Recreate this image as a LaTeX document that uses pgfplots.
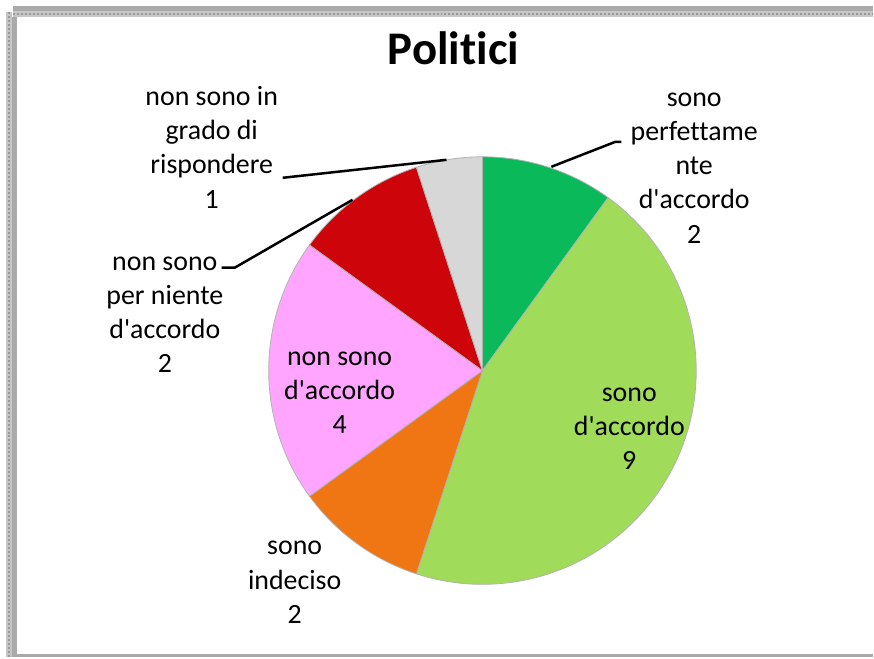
\documentclass[border=0pt]{standalone}
\usepackage{fontspec}
\setmainfont{Carlito}[Ligatures={TeX,NoCommon}]
\usepackage{pgfplots}
\pgfplotsset{compat=1.18}
\usepackage{pgfplotstable}

\definecolor{c0}{RGB}{10,185,90}
\definecolor{c1}{RGB}{160,220,90}
\definecolor{c2}{RGB}{240,118,20}
\definecolor{c3}{RGB}{255,165,255}
\definecolor{c4}{RGB}{205,5,10}
\definecolor{c5}{RGB}{215,215,215}
\definecolor{framegray}{RGB}{170,170,170}

% slices clockwise from 12 o'clock
\pgfplotstableread{
label value
perfettamente 2
accordo 9
indeciso 2
nonaccordo 4
perniente 2
nonrisponde 1
}\piedata

\newcommand{\lbl}{\fontsize{28}{34.5}\selectfont}
\newcommand{\ap}{\textquotesingle}

\begin{document}
\begin{tikzpicture}
\begin{axis}[width=874bp,height=658bp,scale only axis,axis lines=none,
  xmin=0,xmax=874,ymin=0,ymax=658,clip=false]

  %% frame
  \fill[white] (axis cs:0,0) rectangle (axis cs:874,658);
  \fill[framegray] (axis cs:13,647) rectangle (axis cs:874,652);
  \fill[gray!45] (axis cs:13,641) rectangle (axis cs:874,647);
  \draw[gray!80,line width=2bp,dash pattern=on 2bp off 2bp] (axis cs:13,644) -- (axis cs:874,644);
  \fill[gray!45] (axis cs:6,0) rectangle (axis cs:12,646);
  \draw[gray!80,line width=2bp,dash pattern=on 2bp off 2bp] (axis cs:9,0) -- (axis cs:9,646);
  \fill[framegray] (axis cs:12,2) rectangle (axis cs:17,641);
  \fill[framegray] (axis cs:12,0) rectangle (axis cs:874,3);

  %% pie
  \def\total{0}
  \pgfplotsforeachungrouped \i in {0,...,5}{%
    \pgfplotstablegetelem{\i}{value}\of\piedata
    \pgfmathsetmacro\total{\total+\pgfplotsretval}%
  }
  \def\start{90}
  \pgfplotsforeachungrouped \i in {0,...,5}{%
    \pgfplotstablegetelem{\i}{value}\of\piedata
    \pgfmathsetmacro\stop{\start-360*\pgfplotsretval/\total}%
    \edef\cmd{\noexpand\fill[c\i,draw=black!30,line width=0.8bp]
      (axis cs:483,287) -- ++(\start:214bp)
      arc[start angle=\start,end angle=\stop,radius=214bp] -- cycle;}%
    \cmd
    \let\start\stop
  }

  %% title
  \node[font=\fontsize{47}{52}\selectfont\bfseries] at (axis cs:454,610) {Politici};

  %% leader lines
  \draw[line width=2.5bp] (axis cs:283,480) -- (axis cs:447,498);
  \draw[line width=2.5bp] (axis cs:222,390) -- (axis cs:235,390) -- (axis cs:353,458);
  \draw[line width=2.5bp] (axis cs:552,491) -- (axis cs:616,516) -- (axis cs:622,516);

  %% labels
  \node[align=center,inner sep=0,font=\lbl] at (axis cs:212,508)
    {\strut non sono in\\grado di\\rispondere\\1\strut};
  \node[align=center,inner sep=0,font=\lbl] at (axis cs:165,343)
    {\strut non sono\\per niente\\d\ap accordo\\2\strut};
  \node[align=center,inner sep=0,font=\lbl] at (axis cs:695,490)
    {\strut sono\\perfettame\\nte\\d\ap accordo\\2\strut};
  \node[align=center,inner sep=0,font=\lbl] at (axis cs:630,229)
    {\strut sono\\d\ap accordo\\9\strut};
  \node[align=center,inner sep=0,font=\lbl] at (axis cs:295,75)
    {\strut sono\\indeciso\\2\strut};
  \node[align=center,inner sep=0,font=\lbl] at (axis cs:340,265)
    {\strut non sono\\d\ap accordo\\4\strut};
\end{axis}
\end{tikzpicture}
\end{document}
